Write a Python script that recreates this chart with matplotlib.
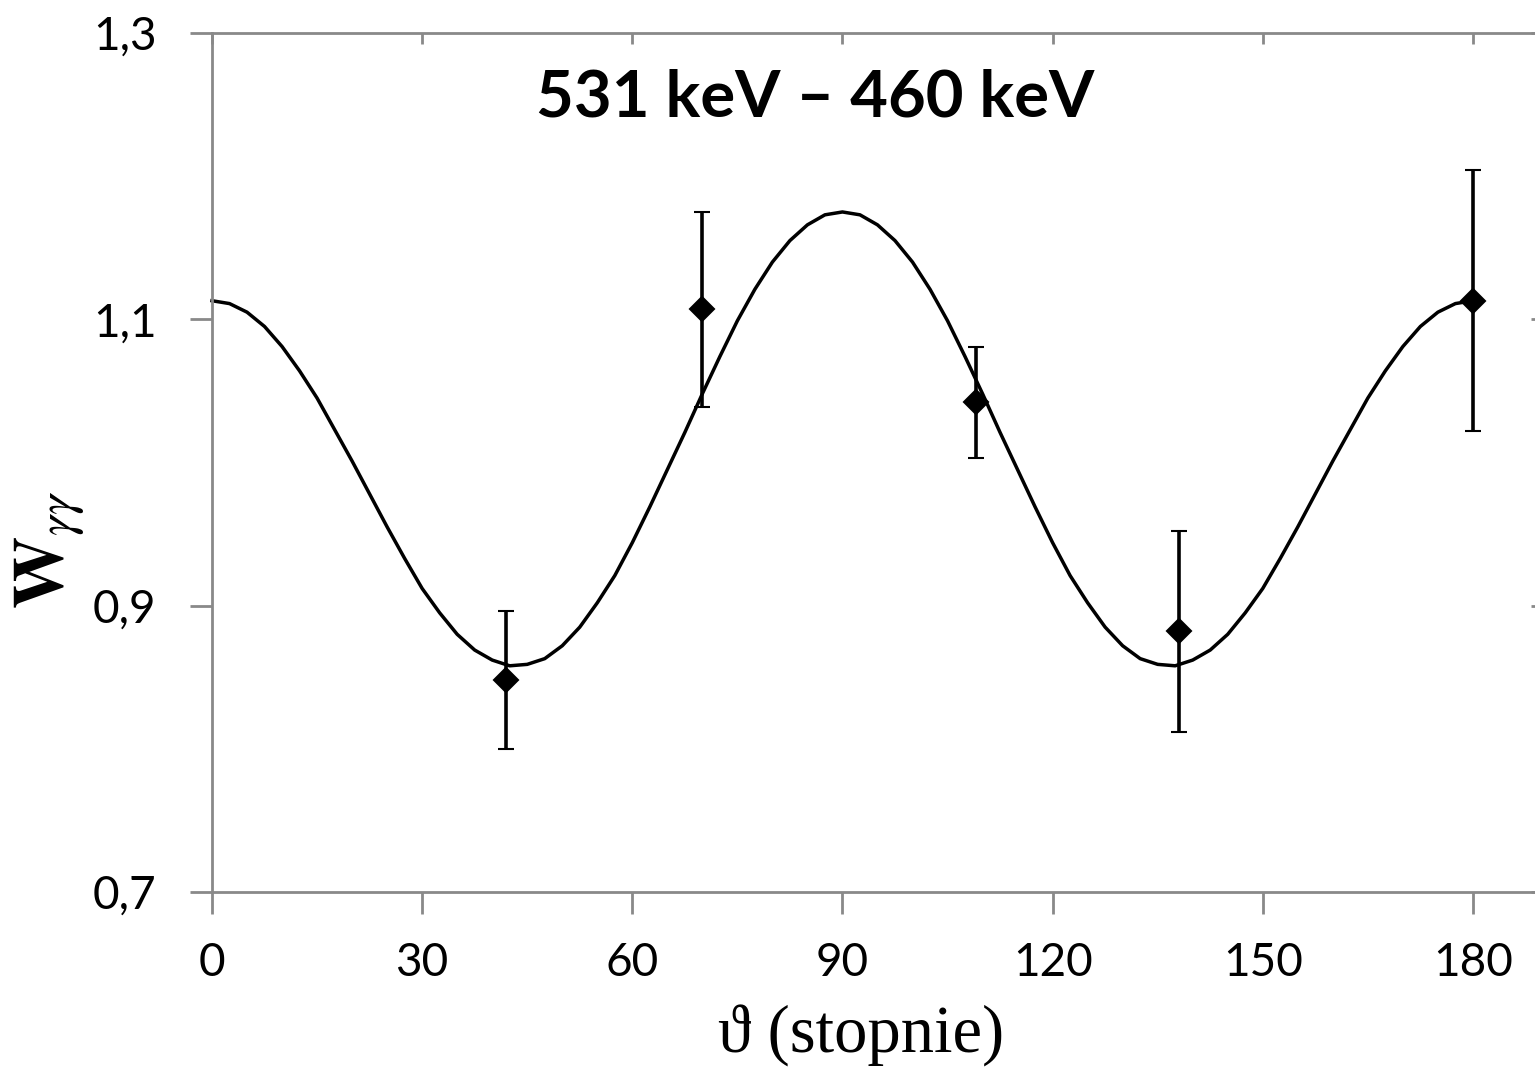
import matplotlib
matplotlib.use("Agg")
import matplotlib.pyplot as plt

# fitted angular correlation curve, every 2.5 degrees
curve_theta = [0, 2.5, 5, 7.5, 10, 12.5, 15, 17.5, 20, 22.5, 25, 27.5, 30, 32.5, 35, 37.5,
               40, 42.5, 45, 47.5, 50, 52.5, 55, 57.5, 60, 62.5, 65, 67.5, 70, 72.5, 75,
               77.5, 80, 82.5, 85, 87.5, 90,
               92.5, 95, 97.5, 100, 102.5, 105, 107.5, 110, 112.5, 115, 117.5, 120, 122.5,
               125, 127.5, 130, 132.5, 135, 137.5, 140, 142.5, 145, 147.5, 150, 152.5, 155,
               157.5, 160, 162.5, 165, 167.5, 170, 172.5, 175, 177.5, 180]
curve_w = [1.113, 1.111, 1.105, 1.095, 1.081, 1.064, 1.045, 1.023, 1.001, 0.978, 0.955,
           0.933, 0.912, 0.895, 0.880, 0.869, 0.862, 0.858, 0.859, 0.863, 0.872, 0.885,
           0.902, 0.921, 0.944, 0.969, 0.995, 1.021, 1.048, 1.074, 1.099, 1.121, 1.140,
           1.155, 1.166, 1.173, 1.175,
           1.173, 1.166, 1.155, 1.140, 1.121, 1.099, 1.074, 1.048, 1.021, 0.995, 0.969,
           0.944, 0.921, 0.902, 0.885, 0.872, 0.863, 0.859, 0.858, 0.862, 0.869, 0.880,
           0.895, 0.912, 0.933, 0.955, 0.978, 1.001, 1.023, 1.045, 1.064, 1.081, 1.095,
           1.105, 1.111, 1.113]

# measured points
meas_theta = [42, 70, 109, 138, 180]
meas_w = [0.848, 1.107, 1.042, 0.882, 1.113]
meas_err = [0.048, 0.068, 0.039, 0.070, 0.091]

x_ticks = [0, 30, 60, 90, 120, 150, 180]
y_ticks = [0.7, 0.9, 1.1, 1.3]
y_labels = ["0,7", "0,9", "1,1", "1,3"]

W, H = 1535, 1077
fig = plt.figure(figsize=(W / 100, H / 100), dpi=100)
ax = fig.add_axes([212 / W, 1 - 892 / H, (1538 - 212) / W, (892 - 33) / H])

grey = "#898989"
tick_font = ["Lato", "DejaVu Sans"]

ax.plot(curve_theta, curve_w, color="black", lw=2.5, zorder=2, clip_on=False,
        solid_joinstyle="round")
ax.errorbar(meas_theta, meas_w, yerr=meas_err, fmt="D", color="black", ms=12,
            mew=1.5, elinewidth=2.6, capsize=6, capthick=2.6, zorder=3, clip_on=False)

ax.set_xlim(0, (1538 - 212) / 7.005)
ax.set_ylim(0.7, 1.3)
ax.set_xticks(x_ticks)
ax.set_xticklabels([str(t) for t in x_ticks], family=tick_font, fontsize=33)
ax.set_yticks(y_ticks)
ax.set_yticklabels(y_labels, family=tick_font, fontsize=33)
ax.tick_params(axis="both", direction="out", length=16, width=2, color=grey)
ax.tick_params(axis="x", pad=20)
ax.tick_params(axis="y", pad=24)

for side in ["top", "right"]:
    ax.spines[side].set_visible(False)
for side in ["left", "bottom"]:
    ax.spines[side].set_color(grey)
    ax.spines[side].set_linewidth(2)

# top and right axes with short inward ticks
top = ax.secondary_xaxis("top")
top.set_xticks(x_ticks)
top.tick_params(direction="in", length=8, width=2, color=grey, labeltop=False)
top.spines["top"].set_color(grey)
top.spines["top"].set_linewidth(2)

right = ax.secondary_yaxis("right")
right.set_yticks(y_ticks)
right.tick_params(direction="in", length=5, width=2, color=grey, labelright=False)
right.spines["right"].set_color(grey)

fig.text(815 / W, 1 - 98 / H, "531 keV – 460 keV", family=tick_font,
         fontweight="bold", fontsize=47, ha="center", va="center")

fig.text(861 / W, 1 - 1036 / H, "ϑ (stopnie)", family=["Liberation Serif", "DejaVu Serif"],
         fontsize=48, ha="center", va="center")

plt.rcParams["mathtext.fontset"] = "stix"
fig.text(50 / W, 1 - 550 / H, r"$\mathbf{W}_{\gamma\gamma}$", fontsize=52,
         rotation=90, ha="center", va="center")

fig.savefig("out.png", dpi=100)
